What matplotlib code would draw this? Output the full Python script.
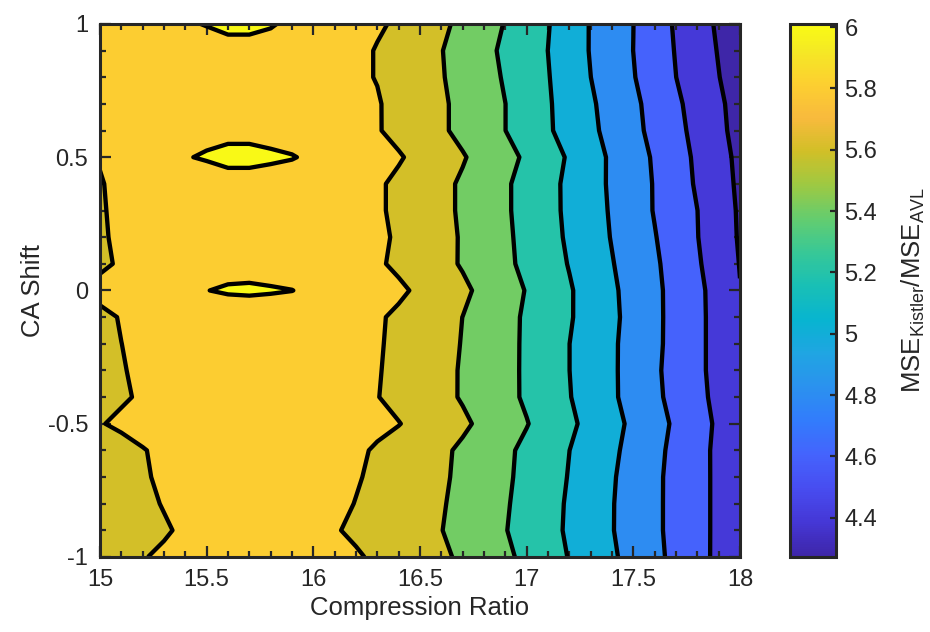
import numpy as np
import matplotlib.pyplot as plt
from matplotlib.colors import LinearSegmentedColormap, Normalize
from matplotlib.ticker import MultipleLocator, FormatStrFormatter
import matplotlib.cm as cm

plt.rcParams['font.family'] = ['Liberation Sans', 'DejaVu Sans']
plt.rcParams['mathtext.fontset'] = 'custom'
plt.rcParams['mathtext.rm'] = 'Liberation Sans'
plt.rcParams['axes.unicode_minus'] = False

# parula (MATLAB default colormap), sampled every 4th entry of the 64-colour table
parula_pts = [
    (0 / 63, (0.2422, 0.1504, 0.6603)),
    (4 / 63, (0.2706, 0.2147, 0.8364)),
    (8 / 63, (0.2813, 0.3006, 0.9414)),
    (12 / 63, (0.2699, 0.3892, 0.9906)),
    (16 / 63, (0.1963, 0.4847, 0.9892)),
    (20 / 63, (0.1687, 0.5703, 0.9359)),
    (24 / 63, (0.1248, 0.6459, 0.8883)),
    (28 / 63, (0.0297, 0.7082, 0.8163)),
    (32 / 63, (0.0964, 0.7500, 0.7120)),
    (36 / 63, (0.2161, 0.7843, 0.5923)),
    (40 / 63, (0.3909, 0.8029, 0.4354)),
    (44 / 63, (0.6174, 0.7876, 0.2612)),
    (48 / 63, (0.8203, 0.7498, 0.1535)),
    (52 / 63, (0.9728, 0.7298, 0.2394)),
    (56 / 63, (0.9892, 0.8136, 0.1885)),
    (60 / 63, (0.9597, 0.9135, 0.1423)),
    (63 / 63, (0.9769, 0.9839, 0.0805)),
]
parula = LinearSegmentedColormap.from_list('parula', parula_pts, N=256)

# grid: compression ratio 15..18 (step 0.1), CA shift -1..1 (step 0.1)
compression_ratio = np.linspace(15, 18, 31)
ca_shift = np.linspace(-1, 1, 21)

# MSE_Kistler / MSE_AVL, one row per CA shift (from -1.0 up to 1.0)
mse_ratio = np.array([
    [5.70, 5.74, 5.79, 5.83, 5.86, 5.875, 5.88, 5.88, 5.875, 5.87, 5.855, 5.835, 5.819, 5.771, 5.724, 5.676, 5.629, 5.572, 5.503, 5.434, 5.358, 5.275, 5.192, 5.108, 5.025, 4.936, 4.845, 4.752, 4.657, 4.562, 4.467],
    [5.66, 5.70, 5.74, 5.78, 5.83, 5.85, 5.865, 5.87, 5.865, 5.855, 5.835, 5.8125, 5.771, 5.729, 5.688, 5.646, 5.604, 5.54, 5.473, 5.407, 5.331, 5.254, 5.175, 5.092, 5.008, 4.922, 4.835, 4.745, 4.655, 4.564, 4.473],
    [5.68, 5.72, 5.76, 5.81, 5.85, 5.865, 5.875, 5.88, 5.88, 5.875, 5.865, 5.841, 5.795, 5.75, 5.705, 5.659, 5.614, 5.553, 5.485, 5.417, 5.34, 5.26, 5.179, 5.094, 5.009, 4.922, 4.835, 4.745, 4.655, 4.564, 4.473],
    [5.69, 5.73, 5.78, 5.83, 5.86, 5.875, 5.885, 5.89, 5.885, 5.875, 5.86, 5.84, 5.814, 5.767, 5.719, 5.671, 5.624, 5.566, 5.497, 5.428, 5.352, 5.272, 5.191, 5.104, 5.017, 4.927, 4.836, 4.745, 4.655, 4.564, 4.473],
    [5.70, 5.74, 5.79, 5.84, 5.87, 5.885, 5.895, 5.90, 5.89, 5.88, 5.865, 5.85, 5.83, 5.78, 5.73, 5.68, 5.63, 5.572, 5.503, 5.434, 5.36, 5.28, 5.201, 5.117, 5.033, 4.943, 4.848, 4.752, 4.657, 4.562, 4.467],
    [5.79, 5.83, 5.87, 5.90, 5.93, 5.95, 5.97, 5.97, 5.96, 5.95, 5.93, 5.90, 5.87, 5.84, 5.806, 5.747, 5.688, 5.629, 5.562, 5.485, 5.408, 5.322, 5.235, 5.145, 5.055, 4.962, 4.867, 4.77, 4.67, 4.57, 4.47],
    [5.73, 5.78, 5.82, 5.85, 5.875, 5.89, 5.90, 5.90, 5.895, 5.88, 5.865, 5.85, 5.83, 5.805, 5.751, 5.697, 5.643, 5.586, 5.517, 5.448, 5.375, 5.292, 5.208, 5.118, 5.027, 4.933, 4.838, 4.743, 4.648, 4.552, 4.457],
    [5.74, 5.79, 5.83, 5.86, 5.88, 5.89, 5.90, 5.90, 5.895, 5.885, 5.87, 5.855, 5.835, 5.811, 5.756, 5.70, 5.644, 5.586, 5.517, 5.448, 5.374, 5.287, 5.201, 5.113, 5.026, 4.93, 4.83, 4.733, 4.638, 4.543, 4.448],
    [5.75, 5.799, 5.84, 5.865, 5.885, 5.895, 5.90, 5.90, 5.895, 5.89, 5.88, 5.86, 5.84, 5.817, 5.761, 5.706, 5.65, 5.593, 5.521, 5.45, 5.374, 5.287, 5.201, 5.113, 5.026, 4.933, 4.838, 4.74, 4.64, 4.54, 4.44],
    [5.76, 5.81, 5.85, 5.89, 5.93, 5.96, 5.965, 5.967, 5.965, 5.955, 5.93, 5.89, 5.855, 5.822, 5.767, 5.711, 5.656, 5.599, 5.526, 5.452, 5.376, 5.296, 5.216, 5.127, 5.036, 4.94, 4.84, 4.74, 4.64, 4.54, 4.44],
    [5.85, 5.89, 5.93, 5.96, 5.985, 5.999, 6.006, 6.008, 6.005, 6.001, 5.985, 5.95, 5.905, 5.87, 5.833, 5.767, 5.70, 5.633, 5.558, 5.475, 5.391, 5.304, 5.217, 5.124, 5.029, 4.933, 4.838, 4.74, 4.64, 4.533, 4.405],
    [5.77, 5.82, 5.86, 5.90, 5.94, 5.97, 5.98, 5.98, 5.975, 5.965, 5.93, 5.885, 5.85, 5.824, 5.765, 5.706, 5.647, 5.585, 5.511, 5.437, 5.358, 5.275, 5.191, 5.10, 5.009, 4.918, 4.827, 4.726, 4.621, 4.509, 4.394],
    [5.78, 5.83, 5.86, 5.88, 5.895, 5.90, 5.90, 5.90, 5.895, 5.89, 5.88, 5.865, 5.85, 5.838, 5.775, 5.713, 5.65, 5.585, 5.508, 5.431, 5.348, 5.261, 5.173, 5.082, 4.991, 4.90, 4.809, 4.708, 4.605, 4.494, 4.383],
    [5.785, 5.835, 5.865, 5.885, 5.895, 5.90, 5.90, 5.90, 5.895, 5.89, 5.875, 5.86, 5.84, 5.824, 5.764, 5.703, 5.642, 5.577, 5.50, 5.423, 5.339, 5.252, 5.164, 5.073, 4.981, 4.886, 4.79, 4.695, 4.601, 4.489, 4.378],
    [5.79, 5.84, 5.87, 5.90, 5.94, 5.97, 5.985, 5.985, 5.98, 5.97, 5.93, 5.89, 5.85, 5.824, 5.764, 5.703, 5.642, 5.577, 5.50, 5.423, 5.339, 5.252, 5.162, 5.067, 4.973, 4.882, 4.789, 4.684, 4.579, 4.474, 4.368],
    [5.81, 5.87, 5.92, 5.97, 5.997, 6.005, 6.01, 6.01, 6.007, 6.003, 5.99, 5.95, 5.90, 5.86, 5.817, 5.749, 5.681, 5.614, 5.536, 5.456, 5.371, 5.276, 5.179, 5.074, 4.971, 4.876, 4.779, 4.674, 4.568, 4.463, 4.358],
    [5.83, 5.87, 5.91, 5.94, 5.975, 5.985, 5.99, 5.99, 5.985, 5.975, 5.94, 5.90, 5.855, 5.8125, 5.75, 5.688, 5.625, 5.554, 5.477, 5.401, 5.311, 5.222, 5.13, 5.037, 4.943, 4.848, 4.75, 4.65, 4.547, 4.442, 4.337],
    [5.84, 5.86, 5.88, 5.89, 5.90, 5.90, 5.90, 5.90, 5.895, 5.885, 5.87, 5.855, 5.835, 5.812, 5.75, 5.688, 5.625, 5.554, 5.477, 5.401, 5.309, 5.218, 5.122, 5.024, 4.93, 4.837, 4.737, 4.632, 4.53, 4.43, 4.33],
    [5.84, 5.86, 5.88, 5.89, 5.90, 5.90, 5.90, 5.90, 5.89, 5.88, 5.87, 5.85, 5.825, 5.794, 5.733, 5.673, 5.612, 5.538, 5.462, 5.383, 5.296, 5.209, 5.105, 5.001, 4.905, 4.81, 4.705, 4.601, 4.502, 4.405, 4.307],
    [5.87, 5.90, 5.93, 5.95, 5.97, 5.98, 5.985, 5.985, 5.98, 5.97, 5.94, 5.90, 5.85, 5.788, 5.727, 5.667, 5.606, 5.528, 5.448, 5.367, 5.283, 5.199, 5.095, 4.99, 4.895, 4.799, 4.695, 4.59, 4.49, 4.39, 4.29],
    [5.86, 5.90, 5.93, 5.96, 5.995, 6.002, 6.01, 6.01, 6.004, 5.99, 5.95, 5.90, 5.86, 5.825, 5.772, 5.703, 5.634, 5.558, 5.475, 5.391, 5.30, 5.209, 5.10, 4.99, 4.895, 4.801, 4.689, 4.579, 4.477, 4.374, 4.272],
])

contour_levels = [4.4, 4.6, 4.8, 5.0, 5.2, 5.4, 5.6, 5.8, 6.0]

zmin, zmax = mse_ratio.min(), mse_ratio.max()
norm = Normalize(zmin, zmax)
bounds = [zmin] + contour_levels + [zmax]
# each filled band takes the colour of its lower bound (MATLAB contourf style)
band_colors = [parula(norm(b)) for b in bounds[:-1]]

dark = '#262626'

fig = plt.figure(figsize=(9.3, 6.32), dpi=100)
ax = fig.add_axes([0.1075, 0.1187, 0.6882, 0.8434])
ax.contourf(compression_ratio, ca_shift, mse_ratio, levels=bounds, colors=band_colors)
ax.contour(compression_ratio, ca_shift, mse_ratio, levels=contour_levels,
           colors='k', linewidths=3.1)

ax.set_xlim(15, 18)
ax.set_ylim(-1, 1)
ax.xaxis.set_major_locator(MultipleLocator(0.5))
ax.xaxis.set_minor_locator(MultipleLocator(0.1))
ax.yaxis.set_major_locator(MultipleLocator(0.5))
ax.yaxis.set_minor_locator(MultipleLocator(0.1))
ax.xaxis.set_major_formatter(FormatStrFormatter('%g'))
ax.yaxis.set_major_formatter(FormatStrFormatter('%g'))
ax.tick_params(which='both', direction='in', top=True, right=True,
               colors=dark, labelsize=17, width=1.6, pad=8.5)
ax.tick_params(which='major', length=8)
ax.tick_params(which='minor', length=4)
for sp in ax.spines.values():
    sp.set_linewidth(2.2)
    sp.set_color(dark)
ax.set_xlabel('Compression Ratio', fontsize=18.5, color=dark, labelpad=4)
ax.set_ylabel('CA Shift', fontsize=18.5, color=dark, labelpad=2)

cax = fig.add_axes([0.8495, 0.1187, 0.0495, 0.8434])
sm = cm.ScalarMappable(norm=norm, cmap=parula)
cb = fig.colorbar(sm, cax=cax)
cb.set_ticks(np.arange(4.4, 6.01, 0.2))
cb.ax.yaxis.set_major_formatter(FormatStrFormatter('%g'))
cb.ax.tick_params(direction='in', length=4, width=1.6, colors=dark,
                  labelsize=17, pad=6)
cb.outline.set_linewidth(2.2)
cb.outline.set_edgecolor(dark)
cb.set_label(r'MSE$_{\mathrm{Kistler}}$/MSE$_{\mathrm{AVL}}$', fontsize=18.5,
             color=dark, labelpad=16)

fig.savefig('out.png', dpi=100)
